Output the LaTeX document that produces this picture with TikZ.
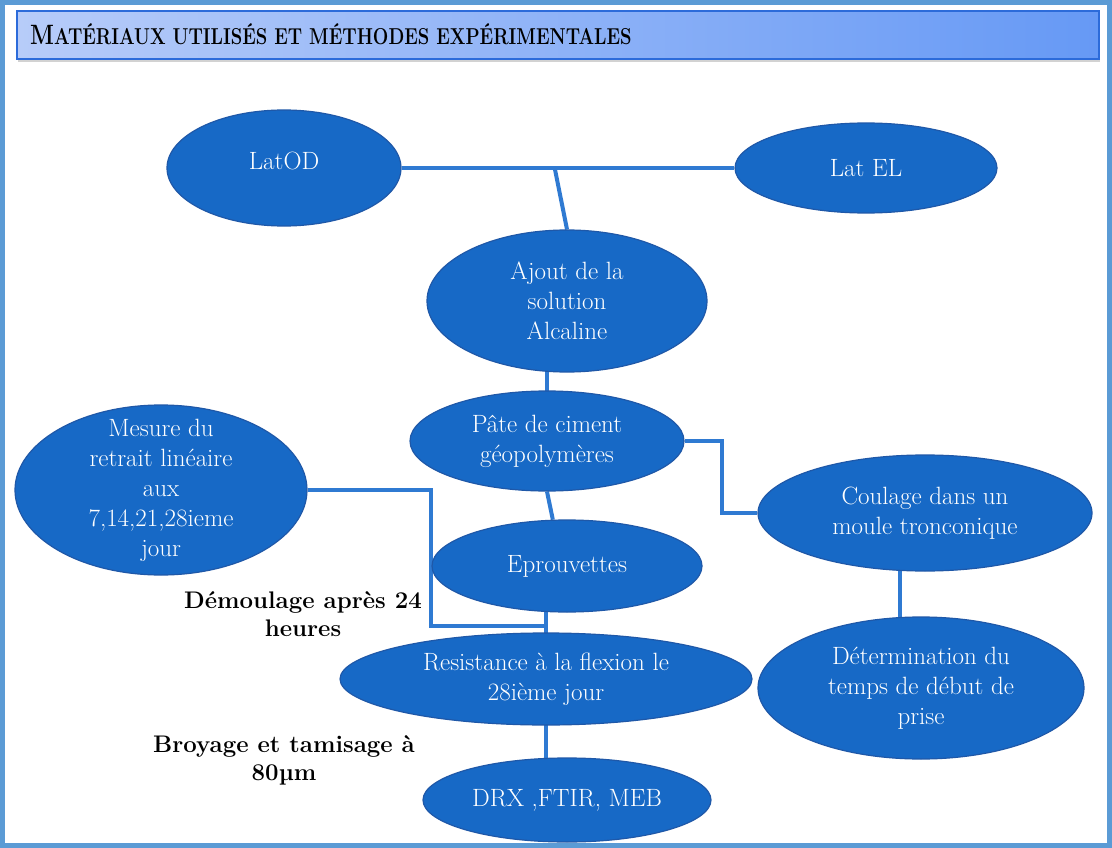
\documentclass[tikz,border=0pt]{standalone}
\usepackage{fontspec}
\usepackage{graphicx}
\usetikzlibrary{shapes.geometric,shadows,backgrounds}

\definecolor{cadrebleu}{HTML}{5B9BD5}
\definecolor{fondbulle}{HTML}{1769C6}
\definecolor{bordbulle}{HTML}{1F58A8}
\definecolor{bleulien}{HTML}{2F7AD2}
\definecolor{titreA}{HTML}{B7CCF9}
\definecolor{titreB}{HTML}{6699F5}
\definecolor{titrebord}{HTML}{2C6BDA}

\begin{document}
\begin{tikzpicture}[x=1pt, y=-1pt,
	bulle/.style={ellipse, draw=bordbulle, line width=1.2pt, fill=fondbulle, inner sep=0pt},
	txt/.style={text=white, align=center, font=\fontsize{25}{30}\selectfont},
	lien/.style={draw=bleulien, line width=4pt},
	note/.style={align=center, font=\bfseries\fontsize{24}{28}\selectfont}]
	\useasboundingbox (0,0) rectangle (1112,848);
	% bandeau du titre
	\node[draw=titrebord, line width=1.5pt, left color=titreA, right color=titreB, minimum width=1082, minimum height=48,
		drop shadow={shadow xshift=1pt, shadow yshift=-3pt, opacity=0.35}] (titre) at (558,35) {};
	\node[anchor=base west, inner sep=0pt] (titretxt) at (30,45) {\bfseries\scalebox{0.8}[1]{{\fontsize{28}{28}\selectfont M}{\fontsize{23}{23}\selectfont ATÉRIAUX UTILISÉS ET MÉTHODES EXPÉRIMENTALES}}};
	% matieres premieres
	\node[bulle, minimum width=234, minimum height=116] (latod) at (284,168) {};
	\node[txt] (t-latod) at (284,161) {LatOD};
	\node[bulle, minimum width=262, minimum height=90] (latel) at (866,168) {};
	\node[txt] (t-latel) at (latel) {Lat EL};
	% preparation de la pate
	\node[bulle, minimum width=280, minimum height=142] (ajout) at (567,301) {};
	\node[txt] (t-ajout) at (ajout) {Ajout de la\\solution\\Alcaline};
	\node[bulle, minimum width=274, minimum height=100] (pate) at (547,441) {};
	\node[txt] (t-pate) at (pate) {Pâte de ciment\\géopolymères};
	\node[bulle, minimum width=292, minimum height=170] (mesure) at (161,490) {};
	\node[txt] (t-mesure) at (mesure) {Mesure du\\retrait linéaire\\aux\\7,14,21,28ieme\\jour};
	\node[bulle, minimum width=334, minimum height=116] (coulage) at (925,513) {};
	\node[txt] (t-coulage) at (coulage) {Coulage dans un\\moule tronconique};
	\node[bulle, minimum width=270, minimum height=92] (epr) at (567,566) {};
	\node[txt] (t-epr) at (epr) {Eprouvettes};
	% essais
	\node[bulle, minimum width=412, minimum height=92] (res) at (546,679) {};
	\node[txt] (t-res) at (res) {Resistance à la flexion le\\28ième jour};
	\node[bulle, minimum width=326, minimum height=142] (det) at (921,688) {};
	\node[txt] (t-det) at (det) {Détermination du\\temps de début de\\prise};
	\node[bulle, minimum width=288, minimum height=84] (drx) at (567,800) {};
	\node[txt] (t-drx) at (drx) {DRX ,FTIR, MEB};
	% etapes intermediaires
	\node[note] (demoulage) at (303,614) {Démoulage après 24\\heures};
	\node[note] (broyage) at (284,760) {Broyage et tamisage à\\80µm};
	\begin{scope}[on background layer]
		\fill[white] (0,0) rectangle (1112,848);
		\draw[cadrebleu, line width=5pt] (2.5,2.5) rectangle (1109.5,845.5);
		% liaisons
		\draw[lien] (latod.east) -- coordinate[pos=0.46] (fourche) (latel.west);
		\draw[lien] (fourche) -- (ajout.north);
		\draw[lien] (pate.center) -- (pate.center |- ajout.center);
		\draw[lien] (pate.south) -- (epr.107);
		\draw[lien] (pate.east) -- ++(37,0) |- (coulage.west);
		\draw[lien] ([xshift=-25pt]coulage.center) -- ([xshift=-25pt]coulage.center |- det.center);
		\draw[lien] (res.center) -- (res.center |- epr.center);
		\coordinate (demoul) at (res.center |- 0,626);
		\draw[lien] (mesure.east) -- ++(123,0) |- (demoul);
		\draw[lien] (res.center) -- (res.center |- drx.center);
	\end{scope}
\end{tikzpicture}
\end{document}
